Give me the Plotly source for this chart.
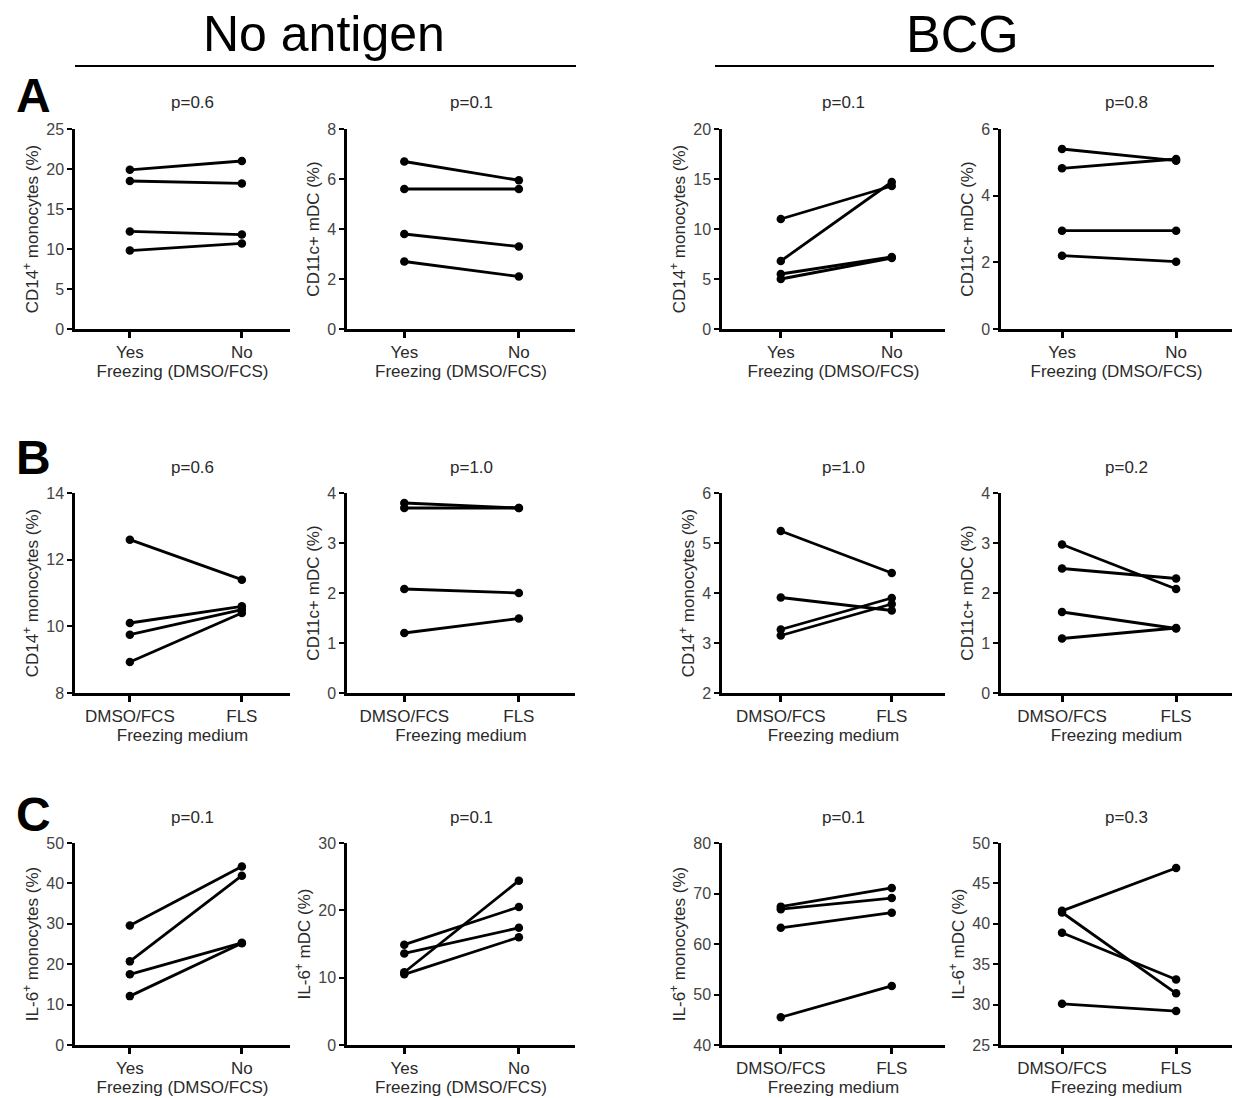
import plotly.graph_objects as go

# ---------------- data ----------------
cats_freeze = ["Yes", "No"]
cats_medium = ["DMSO/FCS", "FLS"]

# Row A - No antigen
a1_start = [19.9, 18.5, 12.2, 9.8]
a1_end = [21.0, 18.2, 11.8, 10.7]
a2_start = [6.7, 5.6, 3.8, 2.7]
a2_end = [5.95, 5.6, 3.3, 2.1]
# Row A - BCG
a3_start = [11.0, 6.8, 5.5, 5.0]
a3_end = [14.3, 14.7, 7.2, 7.1]
a4_start = [5.4, 4.82, 2.95, 2.2]
a4_end = [5.05, 5.1, 2.95, 2.02]
# Row B - No antigen
b1_start = [12.6, 10.1, 9.75, 8.93]
b1_end = [11.4, 10.6, 10.5, 10.4]
b2_start = [3.8, 3.7, 2.08, 1.2]
b2_end = [3.7, 3.7, 2.0, 1.49]
# Row B - BCG
b3_start = [5.24, 3.91, 3.27, 3.15]
b3_end = [4.4, 3.65, 3.9, 3.78]
b4_start = [2.97, 2.49, 1.62, 1.09]
b4_end = [2.08, 2.29, 1.29, 1.3]
# Row C - No antigen
c1_start = [29.6, 20.7, 17.5, 12.1]
c1_end = [44.2, 41.9, 25.3, 25.2]
c2_start = [14.9, 13.6, 10.8, 10.5]
c2_end = [20.5, 17.4, 24.4, 16.0]
# Row C - BCG
c3_start = [67.4, 66.9, 63.2, 45.5]
c3_end = [71.1, 69.1, 66.2, 51.7]
c4_start = [41.6, 41.4, 38.9, 30.1]
c4_end = [46.9, 31.4, 33.1, 29.2]

panels = [
    # (start, end, cats, xtitle, ytitle, yrange, dtick, pval)
    (a1_start, a1_end, cats_freeze, "Freezing (DMSO/FCS)", "CD14<sup>+</sup> monocytes (%)", [0, 25], 5, "p=0.6"),
    (a2_start, a2_end, cats_freeze, "Freezing (DMSO/FCS)", "CD11c+ mDC (%)", [0, 8], 2, "p=0.1"),
    (a3_start, a3_end, cats_freeze, "Freezing (DMSO/FCS)", "CD14<sup>+</sup> monocytes (%)", [0, 20], 5, "p=0.1"),
    (a4_start, a4_end, cats_freeze, "Freezing (DMSO/FCS)", "CD11c+ mDC (%)", [0, 6], 2, "p=0.8"),
    (b1_start, b1_end, cats_medium, "Freezing medium", "CD14<sup>+</sup> monocytes (%)", [8, 14], 2, "p=0.6"),
    (b2_start, b2_end, cats_medium, "Freezing medium", "CD11c+ mDC (%)", [0, 4], 1, "p=1.0"),
    (b3_start, b3_end, cats_medium, "Freezing medium", "CD14<sup>+</sup> monocytes (%)", [2, 6], 1, "p=1.0"),
    (b4_start, b4_end, cats_medium, "Freezing medium", "CD11c+ mDC (%)", [0, 4], 1, "p=0.2"),
    (c1_start, c1_end, cats_freeze, "Freezing (DMSO/FCS)", "IL-6<sup>+</sup> monocytes (%)", [0, 50], 10, "p=0.1"),
    (c2_start, c2_end, cats_freeze, "Freezing (DMSO/FCS)", "IL-6<sup>+</sup> mDC (%)", [0, 30], 10, "p=0.1"),
    (c3_start, c3_end, cats_medium, "Freezing medium", "IL-6<sup>+</sup> monocytes (%)", [40, 80], 10, "p=0.1"),
    (c4_start, c4_end, cats_medium, "Freezing medium", "IL-6<sup>+</sup> mDC (%)", [25, 50], 5, "p=0.3"),
]

W, H = 1240, 1098
col_px = [(75, 290), (347, 575), (722, 945), (1001, 1232)]
col_xr = [[-0.49, 1.43], [-0.5, 1.49], [-0.53, 1.48], [-0.535, 1.49]]
row_px = [(129, 329), (493, 693), (843, 1045)]

FONT = "Liberation Sans, Arial, sans-serif"
TXT = "#2a2a2a"

fig = go.Figure()
layout = dict(
    width=W, height=H,
    margin=dict(l=0, r=0, t=0, b=0, autoexpand=False),
    paper_bgcolor="white", plot_bgcolor="white",
    showlegend=False,
    font=dict(family=FONT, color=TXT, size=14),
)
annotations = []

for i, (s, e, cats, xt, yt, yr, dt, pv) in enumerate(panels):
    r, c = divmod(i, 4)
    k = i + 1
    xa = "x" if k == 1 else f"x{k}"
    ya = "y" if k == 1 else f"y{k}"
    for sv, ev in zip(s, e):
        fig.add_trace(go.Scatter(
            x=[0, 1], y=[sv, ev], mode="lines+markers",
            line=dict(color="black", width=2.8),
            marker=dict(color="black", size=8.5),
            xaxis=xa, yaxis=ya, cliponaxis=False, hoverinfo="skip",
        ))
    x0, x1 = col_px[c]
    y0, y1 = row_px[r]
    layout[f"xaxis{'' if k == 1 else k}"] = dict(
        domain=[x0 / W, x1 / W], anchor=ya, range=col_xr[c], automargin=False,
        tickvals=[0, 1], ticktext=cats, showline=True, linecolor="black",
        linewidth=2.5, ticks="outside", ticklen=6, tickwidth=2.5, tickcolor="black",
        showgrid=False, zeroline=False, tickfont=dict(size=17, color=TXT),
        title=dict(text=xt, font=dict(size=17, color=TXT), standoff=0),
        fixedrange=True,
    )
    layout[f"yaxis{'' if k == 1 else k}"] = dict(
        domain=[1 - y1 / H, 1 - y0 / H], anchor=xa, range=yr, dtick=dt, tick0=yr[0],
        automargin=False,
        showline=True, linecolor="black", linewidth=2.5, ticks="outside",
        ticklen=5, tickwidth=2, tickcolor="black", showgrid=False, zeroline=False,
        tickfont=dict(size=16, color="#444"),
        title=dict(text=yt, font=dict(size=17, color=TXT), standoff=4),
        fixedrange=True,
    )
    annotations.append(dict(
        text=pv, xref="paper", yref="paper",
        x=((x0 + x1) / 2 + 10) / W, y=1 - (y0 - 26) / H,
        showarrow=False, font=dict(size=17, color=TXT), xanchor="center", yanchor="middle",
    ))

# Headers
annotations.append(dict(text="No antigen", xref="paper", yref="paper", x=324 / W, y=1 - 34 / H,
                        showarrow=False, font=dict(size=50, color="black"), xanchor="center", yanchor="middle"))
annotations.append(dict(text="BCG", xref="paper", yref="paper", x=962 / W, y=1 - 34 / H,
                        showarrow=False, font=dict(size=52, color="black"), xanchor="center", yanchor="middle"))
# Panel letters
for letter, yy in [("A", 96), ("B", 458), ("C", 814)]:
    annotations.append(dict(text=f"<b>{letter}</b>", xref="paper", yref="paper", x=33 / W, y=1 - yy / H,
                            showarrow=False, font=dict(size=48, color="black"), xanchor="center", yanchor="middle"))

layout["annotations"] = annotations
layout["shapes"] = [
    dict(type="line", xref="paper", yref="paper", x0=75 / W, x1=576 / W, y0=1 - 66 / H, y1=1 - 66 / H,
         line=dict(color="black", width=2)),
    dict(type="line", xref="paper", yref="paper", x0=715 / W, x1=1214 / W, y0=1 - 66 / H, y1=1 - 66 / H,
         line=dict(color="black", width=2)),
]
fig.update_layout(**layout)
fig.write_html("out.html")
